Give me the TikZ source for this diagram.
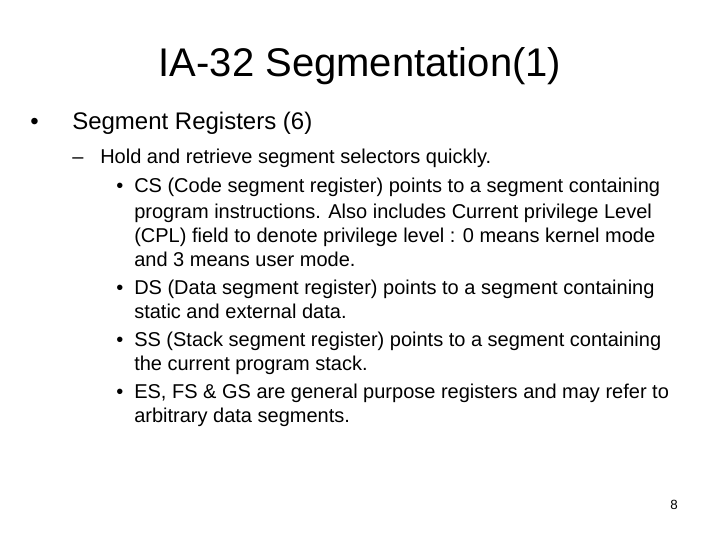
\documentclass[tikz,border=0pt]{standalone}
\usepackage{fontspec}
\setmainfont{Liberation Sans}
\tikzset{
  line/.style={anchor=base west,inner sep=0pt,font=\fontsize{15}{18}\selectfont},
  lvlone/.style={anchor=base west,inner sep=0pt,font=\fontsize{18}{21}\selectfont}
}
\begin{document}
\begin{tikzpicture}[x=0.75pt,y=-0.75pt]
		\useasboundingbox (0,0) rectangle (720,540);
		\node[anchor=base,inner sep=0pt,font=\fontsize{30}{36}\selectfont] (title) at (360,76) {IA-32 Segmentation(1)};
		\node[lvlone] (b1) at (30,129) {\textbullet};
		\node[lvlone] (regs) at (72,129) {Segment Registers (6)};
		\node[line] (dash) at (72,163) {--};
		\node[line] (hold) at (100,163) {Hold and retrieve segment selectors quickly.};
		% sub bullets
		\foreach \y/\t in {192/{CS (Code segment register) points to a segment containing},
		                   294/{DS (Data segment register) points to a segment containing},
		                   346/{SS (Stack segment register) points to a segment containing},
		                   398/{ES, FS \& GS are general purpose registers and may refer to}}{
			\node[line] at (116,\y) {\textbullet};
			\node[line] at (134,\y) {\t};
		}
		\foreach \y/\t in {218/{program instructions. Also includes Current privilege Level},
		                   242/{(CPL) field to denote privilege level : 0 means kernel mode},
		                   266/{and 3 means user mode.},
		                   318/{static and external data.},
		                   370/{the current program stack.},
		                   422/{arbitrary data segments.}}{
			\node[line] at (134,\y) {\t};
		}
		\node[anchor=base east,inner sep=0pt,font=\fontsize{10}{12}\selectfont] (page) at (678,509) {8};
\end{tikzpicture}
\end{document}
